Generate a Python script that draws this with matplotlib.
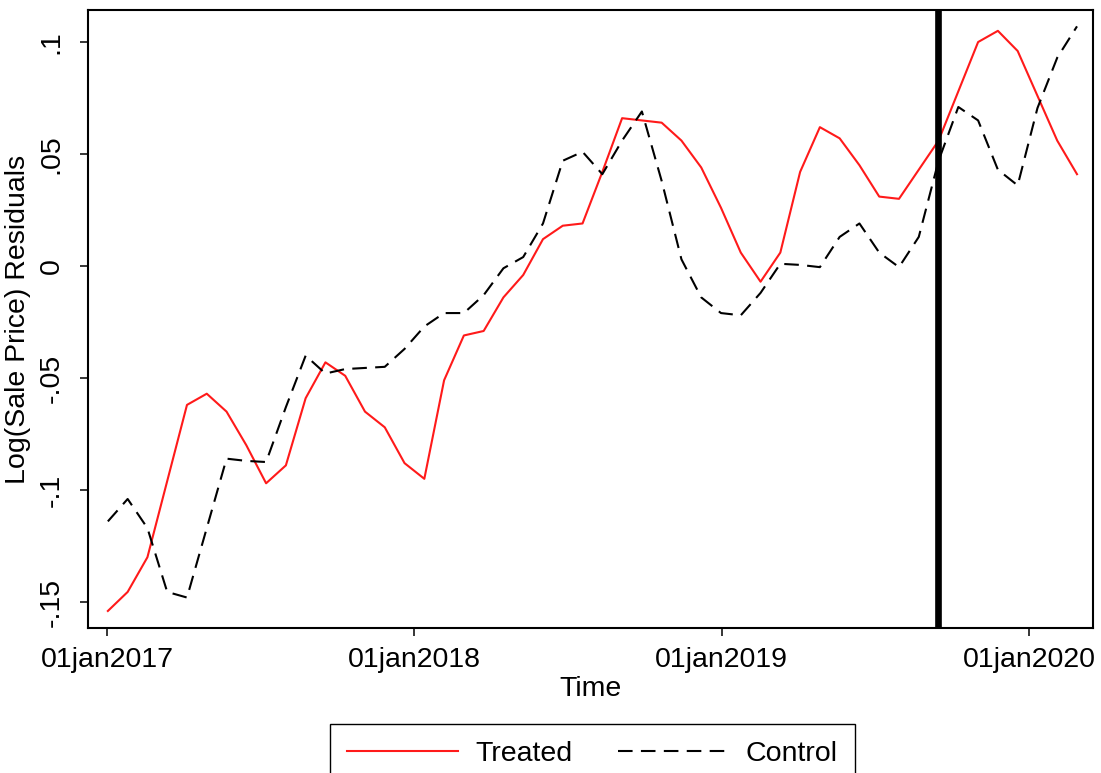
import matplotlib
matplotlib.use("Agg")
import matplotlib.pyplot as plt
import numpy as np
import pandas as pd

plt.rcParams['font.family'] = ['Liberation Sans', 'DejaVu Sans']

# Periods (50 evenly spaced observations, Jan 2017 - Feb 2020)
periods = pd.date_range('2017-01-02', '2020-02-27', periods=50)

treated = [-0.154, -0.1455, -0.130, -0.096, -0.062, -0.057, -0.065, -0.080, -0.097, -0.089,
           -0.059, -0.043, -0.049, -0.065, -0.072, -0.088, -0.095, -0.051, -0.031, -0.029,
           -0.014, -0.004, 0.012, 0.018, 0.019, 0.042, 0.066, 0.065, 0.064, 0.056,
           0.044, 0.026, 0.006, -0.007, 0.006, 0.042, 0.062, 0.057, 0.045, 0.031,
           0.030, 0.043, 0.056, 0.078, 0.100, 0.105, 0.096, 0.076, 0.056, 0.041]

control = [-0.114, -0.104, -0.117, -0.1455, -0.148, -0.117, -0.086, -0.087, -0.0875, -0.063,
           -0.040, -0.048, -0.046, -0.0455, -0.045, -0.037, -0.027, -0.021, -0.021, -0.013,
           -0.001, 0.004, 0.019, 0.047, 0.051, 0.041, 0.056, 0.069, 0.038, 0.003,
           -0.014, -0.021, -0.022, -0.012, 0.001, 0.0005, -0.0005, 0.013, 0.019, 0.006,
           -0.0005, 0.013, 0.047, 0.071, 0.065, 0.043, 0.036, 0.0705, 0.093, 0.107]

event_date = pd.Timestamp('2019-09-15')

x_ticks = pd.to_datetime(['2017-01-01', '2018-01-01', '2019-01-01', '2020-01-01'])
x_tick_labels = ['01jan2017', '01jan2018', '01jan2019', '01jan2020']
y_ticks = [-0.15, -0.10, -0.05, 0.0, 0.05, 0.10]
y_tick_labels = ['-.15', '-.1', '-.05', '0', '.05', '.1']

FS = 20.5

fig = plt.figure(figsize=(11.01, 7.73), dpi=100)
ax = fig.add_axes([88 / 1101, 1 - 628 / 773, (1093 - 88) / 1101, (628 - 10) / 773])

ax.plot(periods, treated, color='#ff1a1a', lw=1.5, label='Treated')
ax.plot(periods, control, color='black', lw=1.5, dashes=(7.0, 4.0), label='Control')
ax.axvline(event_date, color='black', lw=4.8)

ax.set_xlim(pd.Timestamp('2017-01-01') - pd.Timedelta(days=22.6),
            pd.Timestamp('2017-01-01') + pd.Timedelta(days=1171))
ax.set_ylim(-0.1616, 0.1143)

ax.set_xticks(x_ticks)
ax.set_xticklabels(x_tick_labels)
ax.set_yticks(y_ticks)
ax.set_yticklabels(y_tick_labels, rotation=90, va='center')

ax.tick_params(axis='both', direction='out', length=6, width=1.1, labelsize=FS)
ax.tick_params(axis='x', pad=8)
ax.tick_params(axis='y', pad=11)
for s in ax.spines.values():
    s.set_linewidth(1.5)

ax.set_xlabel('Time', fontsize=FS, labelpad=2)
ax.set_ylabel('Log(Sale Price) Residuals', fontsize=FS, labelpad=5)

fig.legend(loc='upper center', bbox_to_anchor=(592.5 / 1101, 1 - 724 / 773), ncol=2,
           fontsize=FS, frameon=True, fancybox=False, edgecolor='black', framealpha=1,
           handlelength=3.9, handletextpad=0.6, columnspacing=1.6, borderpad=0.6,
           borderaxespad=0)

fig.savefig('out.png', dpi=100)
